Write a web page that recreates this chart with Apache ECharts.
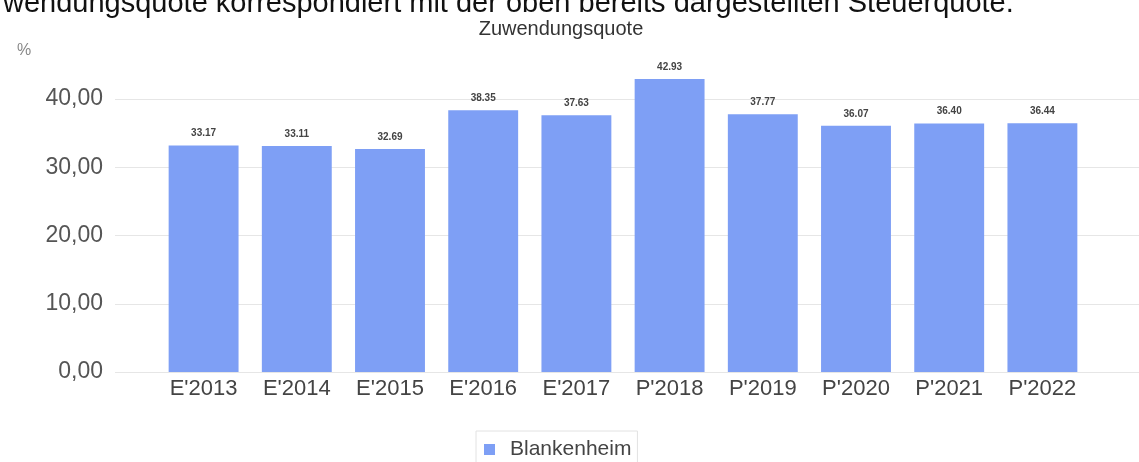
<!DOCTYPE html>
<html>
<head>
<meta charset="utf-8">
<script src="https://cdn.jsdelivr.net/npm/echarts@6/dist/echarts.min.js"></script>
<style>
html,body{margin:0;padding:0;background:#fff;}
#chart{width:1139px;height:462px;}
</style>
</head>
<body>
<div id="chart"></div>
<script>
var categories = ["E'2013","E'2014","E'2015","E'2016","E'2017","P'2018","P'2019","P'2020","P'2021","P'2022"];
var values = [33.17, 33.11, 32.69, 38.35, 37.63, 42.93, 37.77, 36.07, 36.40, 36.44];
var seriesName = "Blankenheim";
var yTicks = [0, 10, 20, 30, 40];

var chart = echarts.init(document.getElementById('chart'), null, {renderer:'canvas'});
var yMin = yTicks[0], yMax = yTicks[yTicks.length-1], yInt = yTicks[1]-yTicks[0];
chart.setOption({
  animation:false,
  backgroundColor:'#fff',
  title:[
    {text:'wendungsquote korrespondiert mit der oben bereits dargestellten Steuerquote.', left:-2, top:-16,
     textStyle:{fontFamily:'Liberation Sans', fontSize:29, fontWeight:'normal', color:'#111'}},
    {text:'Zuwendungsquote', left:556, top:14, textAlign:'center',
     textStyle:{fontFamily:'Liberation Sans', fontSize:20, fontWeight:'normal', color:'#333'}},
    {text:'%', left:12, top:38,
     textStyle:{fontFamily:'Liberation Sans', fontSize:16, fontWeight:'normal', color:'#888'}}
  ],
  legend:{
    data:[seriesName], bottom:-8, left:476,
    itemWidth:11, itemHeight:11, icon:'rect', itemGap:10,
    borderColor:'#e2e2e2', borderWidth:1, padding:[8,6,10,8],
    textStyle:{fontFamily:'Liberation Sans', fontSize:21, color:'#444', padding:[0,0,0,10]}
  },
  grid:[
    {left:157, right:50, top:99, bottom:90},
    {left:115, right:0, top:99, bottom:90}
  ],
  xAxis:[
    {type:'category', gridIndex:0, data:categories,
     axisLine:{show:false}, axisTick:{show:false},
     axisLabel:{margin:6, fontFamily:'Liberation Sans', fontSize:22, color:'#444'}},
    {type:'value', gridIndex:1, show:false, min:0, max:1}
  ],
  yAxis:[
    {type:'value', gridIndex:0, min:yMin, max:yMax, interval:yInt, show:false, splitLine:{show:false}},
    {type:'value', gridIndex:1, min:yMin, max:yMax, interval:yInt,
     axisLine:{show:false}, axisTick:{show:false},
     splitLine:{lineStyle:{color:'#e6e6e6', width:1}},
     axisLabel:{margin:12, fontFamily:'Liberation Sans', fontSize:23, color:'#555',
       formatter:function(v){return v.toFixed(2).replace('.',',');}}}
  ],
  series:[{
    name:seriesName, type:'bar', xAxisIndex:0, yAxisIndex:0,
    data:values, barWidth:'75%', clip:false,
    itemStyle:{color:'#7e9ff5'},
    label:{show:true, position:'top', distance:7, fontFamily:'Liberation Sans', fontSize:10, fontWeight:'bold', color:'#444',
      formatter:function(p){return p.value.toFixed(2);}}
  }]
});
</script>
</body>
</html>
